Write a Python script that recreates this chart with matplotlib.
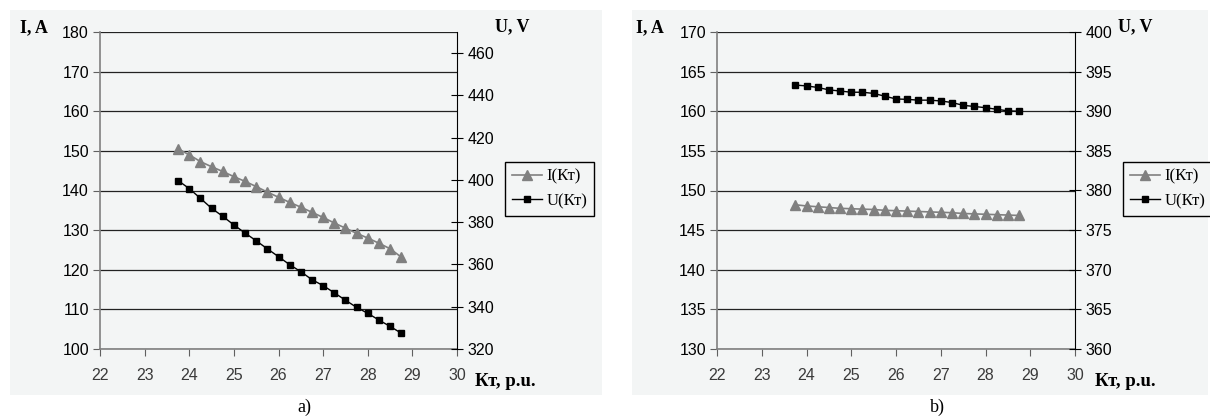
import numpy as np
import matplotlib
matplotlib.use("Agg")
import matplotlib.pyplot as plt
from matplotlib.patches import Rectangle

# shared x values (Kт, p.u.)
kt = [23.75, 24.0, 24.25, 24.5, 24.75, 25.0, 25.25, 25.5, 25.75, 26.0, 26.25,
      26.5, 26.75, 27.0, 27.25, 27.5, 27.75, 28.0, 28.25, 28.5, 28.75]

# panel a)
i_a = [150.5, 149.0, 147.3, 146.0, 144.8, 143.5, 142.3, 141.0, 139.6, 138.3, 137.0,
       135.8, 134.5, 133.2, 131.8, 130.5, 129.2, 128.0, 126.7, 125.3, 123.2]
u_a = [399.7, 395.9, 391.3, 386.6, 382.8, 378.7, 374.9, 371.2, 367.4, 363.7, 359.9,
       356.6, 352.8, 350.0, 346.6, 343.1, 339.7, 336.9, 333.7, 330.7, 327.5]

# panel b)
i_b = [148.2, 148.05, 147.95, 147.85, 147.75, 147.7, 147.65, 147.6, 147.5, 147.45, 147.4,
       147.35, 147.3, 147.25, 147.2, 147.1, 147.05, 147.0, 146.95, 146.9, 146.85]
u_b = [393.3, 393.2, 393.0, 392.7, 392.55, 392.4, 392.4, 392.25, 391.9, 391.55, 391.5,
       391.4, 391.4, 391.3, 391.1, 390.75, 390.6, 390.45, 390.25, 390.05, 390.0]

x_ticks = [22, 23, 24, 25, 26, 27, 28, 29, 30]
ia_ticks = [100, 110, 120, 130, 140, 150, 160, 170, 180]
ua_ticks = [320, 340, 360, 380, 400, 420, 440, 460]
ib_ticks = [130, 135, 140, 145, 150, 155, 160, 165, 170]
ub_ticks = [360, 365, 370, 375, 380, 385, 390, 395, 400]

BG = "#f3f5f5"
W, H = 1210.0, 420.0

fig = plt.figure(figsize=(12.1, 4.2), dpi=100)

# light panel backgrounds
fig.patches.append(Rectangle((10 / W, 1 - 395 / H), 592 / W, 385 / H,
                             transform=fig.transFigure, facecolor=BG, edgecolor="none", zorder=-5))
fig.patches.append(Rectangle((632 / W, 1 - 395 / H), 576 / W, 385 / H,
                             transform=fig.transFigure, facecolor=BG, edgecolor="none", zorder=-5))


def panel(left_px, right_px, i_vals, u_vals, i_lim, u_lim, i_ticks, u_ticks,
          legend_px, labels_px, tag):
    ax = fig.add_axes([left_px / W, 1 - 349 / H, (right_px - left_px) / W, 317 / H])
    ax.set_facecolor(BG)
    ax2 = ax.twinx()
    ax2.set_zorder(ax.get_zorder() + 1)

    l1, = ax.plot(kt, i_vals, color="#808080", lw=1.2, marker="^", ms=7, zorder=3)
    l2, = ax2.plot(kt, u_vals, color="black", lw=1.0, marker="s", ms=4.8, zorder=3)

    ax.set_xlim(22, 30)
    ax.set_ylim(*i_lim)
    ax2.set_ylim(*u_lim)
    ax.set_xticks(x_ticks)
    ax.set_yticks(i_ticks)
    ax2.set_yticks(u_ticks)

    ax.grid(axis="y", color="#222222", lw=0.9)
    ax.set_axisbelow(True)

    for s in ["top", "right"]:
        ax.spines[s].set_visible(False)
    for s in ["top", "left", "bottom"]:
        ax2.spines[s].set_visible(False)
    ax.spines["left"].set_color("#808080")
    ax.spines["bottom"].set_color("#808080")
    ax.spines["left"].set_linewidth(1.2)
    ax.spines["bottom"].set_linewidth(1.2)

    ax.tick_params(axis="y", direction="out", length=5, color="#606060",
                   labelsize=11.5, labelcolor="black", pad=3)
    ax.tick_params(axis="x", direction="out", length=5, color="#606060",
                   labelsize=11.5, labelcolor="#3a3a3a", pad=9)
    ax2.tick_params(axis="y", direction="inout", length=9, color="black",
                    labelsize=11.5, labelcolor="black", pad=3)
    for t in ax.get_xticklabels() + ax.get_yticklabels() + ax2.get_yticklabels():
        t.set_family("Liberation Sans")

    leg = ax2.legend([l1, l2], ["I(Кт)", "U(Кт)"], loc="upper left",
                     bbox_to_anchor=(legend_px[0] / W, 1 - legend_px[1] / H),
                     bbox_transform=fig.transFigure, borderaxespad=0,
                     prop={"family": "Liberation Serif", "size": 12},
                     fancybox=False, facecolor=BG, framealpha=1, edgecolor="black",
                     handlelength=1.8, handletextpad=0.3)
    leg.get_frame().set_linewidth(1.0)

    serif = dict(family="Liberation Serif", weight="bold", size=13)
    fig.text(labels_px[0] / W, 1 - 28 / H, "I, A", ha="left", va="center", **serif)
    fig.text(labels_px[1] / W, 1 - 27 / H, "U, V", ha="left", va="center", **serif)
    fig.text(labels_px[2] / W, 1 - 382 / H, "Кт, p.u.", ha="left", va="center",
             family="Liberation Serif", weight="bold", size=13.5)
    fig.text(labels_px[3] / W, 1 - 407 / H, tag, ha="center", va="center",
             family="Liberation Serif", size=13)


panel(100, 457, i_a, u_a, (100, 180), (320, 470), ia_ticks, ua_ticks,
      (505, 162), (20, 495, 475, 304), "a)")
panel(717, 1075, i_b, u_b, (130, 170), (360, 400), ib_ticks, ub_ticks,
      (1123, 162), (636, 1118, 1095, 937), "b)")

fig.savefig("out.png", dpi=100)
